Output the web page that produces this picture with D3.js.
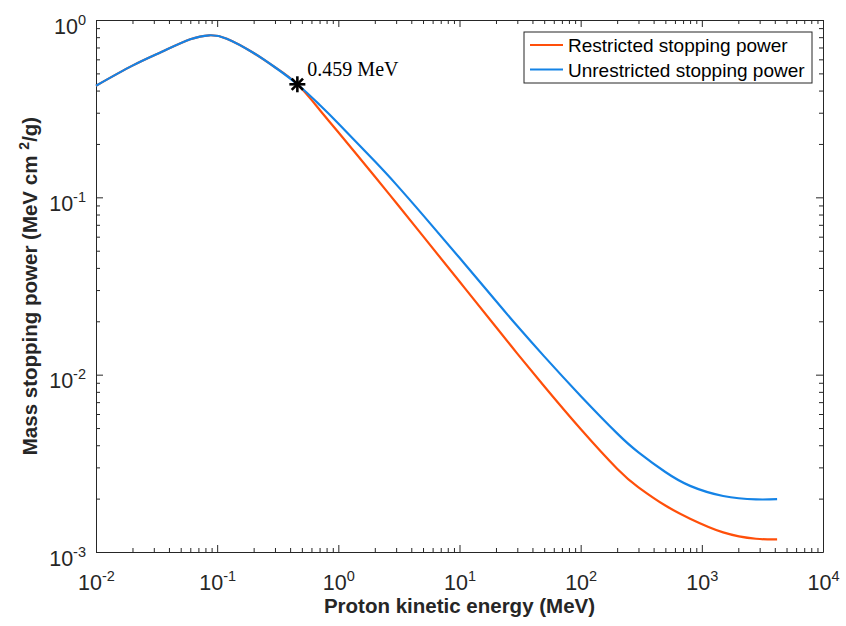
<!DOCTYPE html>
<html lang="en">
<head>
  <meta charset="UTF-8">
  <title>Mass stopping power</title>
  <script src="https://d3js.org/d3.v7.min.js"></script>
  <style>
    body {
      margin: 0;
      background: #fff;
      font-family: 'Liberation Sans', Arial, sans-serif;
    }
    .axis path, .axis line {
      stroke: #262626;
      stroke-width: 1;
    }
    .axis text {
      fill: #262626;
      font-size: 21.5px;
    }
    .axis text.exp {
      font-size: 14.5px;
    }
    .axis-label {
      font-weight: bold;
      font-size: 20.5px;
      fill: #262626;
    }
    .legend text {
      font-size: 19px;
      fill: #000;
    }
  </style>
</head>
<body>
  <svg width="846" height="626"></svg>

  <script>
    // proton kinetic energy (MeV)
    let energy = [0.01, 0.02, 0.035, 0.06, 0.086, 0.12, 0.2, 0.3, 0.459, 0.7, 1, 2, 3, 5,
      10, 20, 30, 50, 100, 200, 300, 500, 800, 1500, 2800, 4180];

    // mass stopping power (MeV cm^2/g)
    let restricted = [0.426, 0.553, 0.662, 0.778, 0.820, 0.785, 0.652, 0.5415, 0.434, 0.312,
      0.2329, 0.1311, 0.0932, 0.0604, 0.0335, 0.01858, 0.01315, 0.00861, 0.00494, 0.00295,
      0.002317, 0.001828, 0.001542, 0.001291, 0.001188, 0.001177];
    let unrestricted = [0.426, 0.553, 0.662, 0.778, 0.820, 0.785, 0.652, 0.5415, 0.434, 0.3325,
      0.261, 0.1596, 0.1183, 0.0794, 0.0456, 0.0260, 0.0188, 0.01268, 0.00759, 0.004667,
      0.003648, 0.002825, 0.00236, 0.00207, 0.00198, 0.001986];

    let seriesNames = ['Restricted stopping power', 'Unrestricted stopping power'];
    let seriesColors = ['#ff4f0a', '#1483e6'];

    let xTicks = [1e-2, 1e-1, 1e0, 1e1, 1e2, 1e3, 1e4];
    let yTicks = [1e-3, 1e-2, 1e-1, 1e0];

    let cutEnergy = 0.459;
    let cutValue = 0.434;
    let cutLabel = '0.459 MeV';

    let margin = { top: 20, right: 23, bottom: 74, left: 96 };
    let width = 846, height = 626;
    let innerWidth = width - margin.left - margin.right;
    let innerHeight = height - margin.top - margin.bottom;

    let svg = d3.select('svg');
    let chart = svg.append('g')
      .attr('transform', `translate(${margin.left},${margin.top})`);

    let x = d3.scaleLog().domain([1e-2, 1e4]).range([0, innerWidth]);
    let y = d3.scaleLog().domain([1e-3, 1]).range([innerHeight, 0]);

    // minor ticks 2..9 in each decade
    function minors(ticks) {
      let out = [];
      for (let i = 0; i < ticks.length - 1; i++) {
        for (let k = 2; k <= 9; k++) out.push(ticks[i] * k);
      }
      return out;
    }

    // tick label "10" plus a separate raised exponent text
    // align: 'center' (x axis) or 'right' (y axis, right edge at x0)
    function powerLabel(sel, align, x0, baseY) {
      sel.each(function(d) {
        let t = d3.select(this);
        let g = d3.select(this.parentNode);
        let p = String(Math.round(Math.log10(d)));
        t.text('10').attr('dy', null).attr('y', baseY).attr('text-anchor', 'start');
        let e = g.append('text').attr('class', 'exp')
          .attr('fill', 'currentColor')
          .attr('text-anchor', 'start')
          .attr('y', baseY - 9)
          .text(p);
        let wb = this.getComputedTextLength();
        let we = e.node().getComputedTextLength();
        let left = align === 'center' ? -(wb + we) / 2 : x0 - wb - we;
        t.attr('x', left);
        e.attr('x', left + wb);
      });
    }

    function minorAxis(axis, shift) {
      let g = chart.append('g').attr('class', 'axis')
        .attr('transform', shift || null)
        .call(axis.tickSize(-4).tickFormat(''));
      g.select('.domain').remove();
      g.selectAll('text').remove();
    }

    // minor ticks, all four sides
    minorAxis(d3.axisBottom(x).tickValues(minors(xTicks)), `translate(0,${innerHeight})`);
    minorAxis(d3.axisTop(x).tickValues(minors(xTicks)));
    minorAxis(d3.axisLeft(y).tickValues(minors(yTicks)));
    minorAxis(d3.axisRight(y).tickValues(minors(yTicks)), `translate(${innerWidth},0)`);

    // major ticks with labels
    let xAxis = chart.append('g').attr('class', 'axis')
      .attr('transform', `translate(0,${innerHeight})`)
      .call(d3.axisBottom(x).tickValues(xTicks).tickSize(-7).tickSizeOuter(0));
    xAxis.selectAll('.tick text').call(powerLabel, 'center', 0, 38);

    let yAxis = chart.append('g').attr('class', 'axis')
      .call(d3.axisLeft(y).tickValues(yTicks).tickSize(-7).tickSizeOuter(0));
    yAxis.selectAll('.tick text').call(powerLabel, 'right', -10, 13);

    let topAxis = chart.append('g').attr('class', 'axis')
      .call(d3.axisTop(x).tickValues(xTicks).tickSize(-7).tickSizeOuter(0).tickFormat(''));
    topAxis.selectAll('text').remove();
    let rightAxis = chart.append('g').attr('class', 'axis')
      .attr('transform', `translate(${innerWidth},0)`)
      .call(d3.axisRight(y).tickValues(yTicks).tickSize(-7).tickSizeOuter(0).tickFormat(''));
    rightAxis.selectAll('text').remove();

    // curves
    let line = d3.line()
      .x(d => x(d[0]))
      .y(d => y(d[1]))
      .curve(d3.curveNatural);

    [restricted, unrestricted].forEach((vals, i) => {
      chart.append('path')
        .datum(energy.map((e, j) => [e, vals[j]]))
        .attr('fill', 'none')
        .attr('stroke', seriesColors[i])
        .attr('stroke-width', 2.2)
        .attr('d', line);
    });

    // asterisk at the cut energy
    let cx = x(cutEnergy), cy = y(cutValue), r = 8;
    let star = chart.append('g').attr('transform', `translate(${cx},${cy})`)
      .attr('stroke', '#000').attr('stroke-width', 2.6);
    [0, 45, 90, 135].forEach(a => {
      let rad = a * Math.PI / 180;
      star.append('line')
        .attr('x1', -r * Math.cos(rad)).attr('y1', -r * Math.sin(rad))
        .attr('x2', r * Math.cos(rad)).attr('y2', r * Math.sin(rad));
    });
    chart.append('text')
      .attr('x', cx + 10).attr('y', cy - 8)
      .style('font-family', "'Liberation Serif', 'Times New Roman', serif")
      .style('font-size', '20px')
      .text(cutLabel);

    // legend
    let legend = chart.append('g').attr('class', 'legend')
      .attr('transform', `translate(${524 - margin.left},${32 - margin.top})`);
    legend.append('rect')
      .attr('width', 288).attr('height', 51)
      .attr('fill', '#fff').attr('stroke', '#262626').attr('stroke-width', 1);
    seriesNames.forEach((name, i) => {
      let row = legend.append('g').attr('transform', `translate(0,${13 + i * 24.5})`);
      row.append('line')
        .attr('x1', 6).attr('x2', 39)
        .attr('stroke', seriesColors[i]).attr('stroke-width', 2.2);
      row.append('text')
        .attr('x', 44).attr('y', 7)
        .text(name);
    });

    // axis titles
    chart.append('text').attr('class', 'axis-label')
      .attr('x', innerWidth / 2).attr('y', innerHeight + 61)
      .attr('text-anchor', 'middle')
      .text('Proton kinetic energy (MeV)');

    // y title in three pieces so the superscript sits in line
    let yTitle = chart.append('g')
      .attr('transform', `translate(${-59},${innerHeight / 2}) rotate(-90)`);
    let parts = [
      { text: 'Mass stopping power (MeV cm', dy: 0, size: null, gap: 6 },
      { text: '2', dy: -8, size: '14px', gap: 0 },
      { text: '/g)', dy: 0, size: null, gap: 0 }
    ];
    let pieces = parts.map(p => yTitle.append('text').attr('class', 'axis-label')
      .attr('y', p.dy).style('font-size', p.size).text(p.text));
    let widths = pieces.map((s, i) => s.node().getComputedTextLength() + parts[i].gap);
    let pos = -d3.sum(widths) / 2;
    pieces.forEach((s, i) => { s.attr('x', pos); pos += widths[i]; });
  </script>
</body>
</html>
